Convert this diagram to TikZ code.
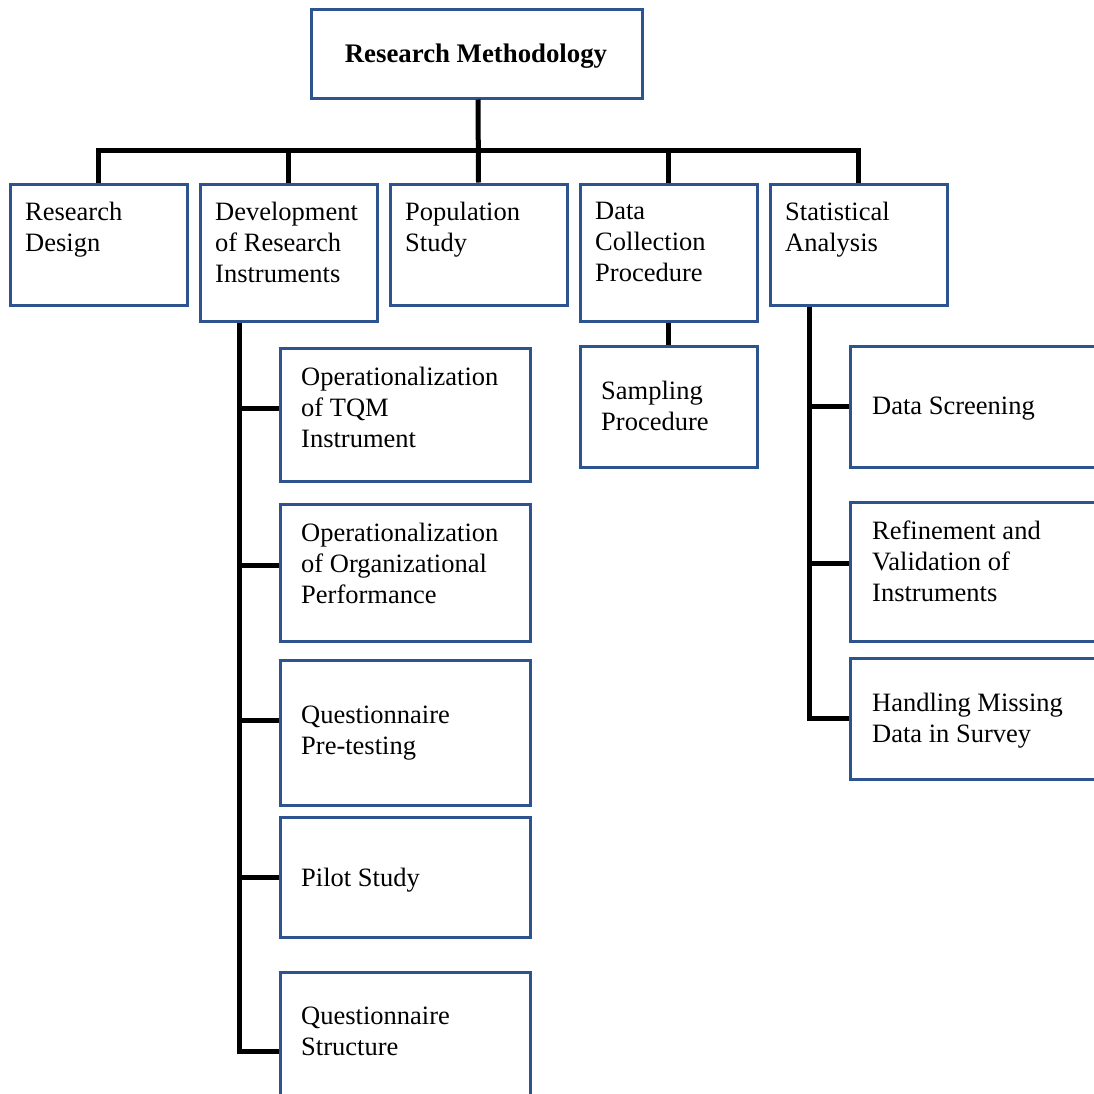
\documentclass[tikz,border=0pt]{standalone}
\usepackage{fontspec}
\setmainfont{Liberation Serif}
\definecolor{boxblue}{RGB}{46,84,143}
\begin{document}
\begin{tikzpicture}[x=1pt,y=-1pt,
  box/.style={draw=boxblue, line width=3pt, fill=white, inner sep=0pt},
  lbl/.style={anchor=north west, inner sep=0pt, align=left, font=\fontsize{26.5}{31}\selectfont},
  conn/.style={draw=black, line width=5pt, line join=miter}]
\clip (0,0) rectangle (1094,1093);
\fill[white] (0,0) rectangle (1094,1093);
% top
\node[box, minimum width=331, minimum height=89] (top) at (477,53.5) {};
\node[font=\bfseries\fontsize{26.8}{31}\selectfont, inner sep=0pt] (topt) at (476,56) {Research Methodology};
% level 1
\node[box, minimum width=177, minimum height=121] (rd) at (98.5,244.5) {};
\node[box, minimum width=177, minimum height=137] (dev) at (288.5,252.5) {};
\node[box, minimum width=177, minimum height=121] (pop) at (478.5,244.5) {};
\node[box, minimum width=177, minimum height=137] (dcp) at (668.5,252.5) {};
\node[box, minimum width=177, minimum height=121] (sa) at (858.5,244.5) {};
\node[lbl] (rdt) at (25,201.5) {Research\\Design};
\node[lbl] (devt) at (215,201.5) {Development\\of Research\\Instruments};
\node[lbl] (popt) at (405,201.5) {Population\\Study};
\node[lbl] (dcpt) at (595,201.5) {Data\\Collection\\Procedure};
\node[lbl] (sat) at (785,201.5) {Statistical\\Analysis};
% development children
\node[box, minimum width=250, minimum height=133] (tqm) at (405,414.5) {};
\node[box, minimum width=250, minimum height=137] (oop) at (405,572.5) {};
\node[box, minimum width=250, minimum height=145] (qpt) at (405,732.5) {};
\node[box, minimum width=250, minimum height=120] (pil) at (405,877) {};
\node[box, minimum width=250, minimum height=128] (qst) at (405,1036) {};
\node[lbl] (tqmt) at (301,366.5) {Operationalization\\of TQM\\Instrument};
\node[lbl] (oopt) at (301,522.5) {Operationalization\\of Organizational\\Performance};
\node[lbl] (qptt) at (301,705.5) {Questionnaire\\Pre-testing};
\node[lbl] (pilt) at (301,867.5) {Pilot Study};
\node[lbl] (qstt) at (301,1006.5) {Questionnaire\\Structure};
% sampling
\node[box, minimum width=177, minimum height=121] (samp) at (668.5,406.5) {};
\node[lbl] (sampt) at (601,380.5) {Sampling\\Procedure};
% statistical children
\node[box, minimum width=250, minimum height=121] (ds) at (975,406.5) {};
\node[box, minimum width=250, minimum height=139] (ref) at (975,571.5) {};
\node[box, minimum width=250, minimum height=121] (hmd) at (975,718.5) {};
\node[lbl] (dst) at (872,396.5) {Data Screening};
\node[lbl] (reft) at (872,520.5) {Refinement and\\Validation of\\Instruments};
\node[lbl] (hmdt) at (872,692.5) {Handling Missing\\Data in Survey};
% connectors
\draw[conn] (top.south -| 478,0) -- (pop.north);
\draw[conn] (rd.north) -- (rd.north |- 0,150) -| (sa.north);
\draw[conn] (dev.north) -- (dev.north |- 0,150);
\draw[conn] (dcp.north) -- (dcp.north |- 0,150);
\draw[conn] (dev.south -| 239,0) |- (qst.west |- 0,1051);
\draw[conn] (239,408) -- (tqm.west |- 0,408);
\draw[conn] (239,565) -- (oop.west |- 0,565);
\draw[conn] (239,720) -- (qpt.west |- 0,720);
\draw[conn] (239,877) -- (pil.west |- 0,877);
\draw[conn] (dcp.south) -- (samp.north);
\draw[conn] (sa.south -| 809,0) |- (hmd.west |- 0,718);
\draw[conn] (809,406) -- (ds.west |- 0,406);
\draw[conn] (809,563) -- (ref.west |- 0,563);
\end{tikzpicture}
\end{document}
